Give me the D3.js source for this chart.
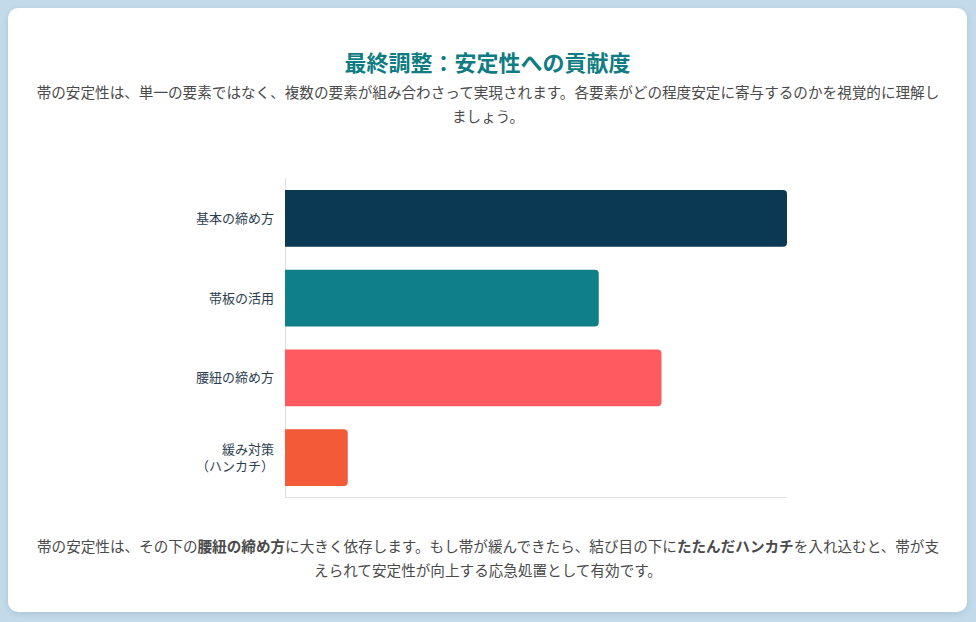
<!DOCTYPE html>
<html><head><meta charset="utf-8">
<script src="https://cdn.jsdelivr.net/npm/d3@7"></script>
<style>
body{margin:0;background:#c3daeb;font-family:"Noto Sans CJK JP","Noto Sans",sans-serif;}
#card{position:absolute;left:8px;top:8px;width:959px;height:604px;background:#fff;border-radius:10px;box-shadow:0 2px 6px rgba(0,0,0,0.1);}
h1{position:absolute;top:37px;left:0;width:100%;margin:0;text-align:center;font-size:22px;color:#0f7c83;font-weight:700;}
.p{position:absolute;left:28px;width:904px;text-align:center;font-size:14.6px;color:#4a4a4a;line-height:24px;}
svg{position:absolute;left:0;top:0;}
</style></head><body>
<div id="card">
<h1>最終調整：安定性への貢献度</h1>
<div class="p" style="top:72px">帯の安定性は、単一の要素ではなく、複数の要素が組み合わさって実現されます。各要素がどの程度安定に寄与するのかを視覚的に理解しましょう。</div>
<div class="p" style="top:526px">帯の安定性は、その下の<b>腰紐の締め方</b>に大きく依存します。もし帯が緩んできたら、結び目の下に<b>たたんだハンカチ</b>を入れ込むと、帯が支えられて安定性が向上する応急処置として有効です。</div>
</div>
<svg width="976" height="622"></svg>
<script>
const categories=[["基本の締め方"],["帯板の活用"],["腰紐の締め方"],["緩み対策","（ハンカチ）"]];
const values=[8,5,6,1];
const colors=["#0b3954","#0f7f8a","#ff5a5f","#f25a38"];
const svg=d3.select("svg");
const x=d3.scaleLinear().domain([0,8]).range([285,787]);
const y=d3.scaleBand().domain(d3.range(4)).range([178,498]).paddingInner(0.2875).paddingOuter(0.15);
svg.append("line").attr("x1",285.5).attr("x2",285.5).attr("y1",178).attr("y2",498).attr("stroke","#e0e0e0");
svg.append("line").attr("x1",285).attr("x2",787).attr("y1",497.5).attr("y2",497.5).attr("stroke","#e0e0e0");
const r=4;
svg.selectAll("path.bar").data(values).join("path").attr("fill",(d,i)=>colors[i]).attr("d",(d,i)=>{
 const x0=x(0),x1=x(d),y0=y(i),h=y.bandwidth();
 return `M${x0},${y0}H${x1-r}Q${x1},${y0} ${x1},${y0+r}V${y0+h-r}Q${x1},${y0+h} ${x1-r},${y0+h}H${x0}Z`;});
categories.forEach((lines,i)=>{
 const t=svg.append("text").attr("text-anchor","end").attr("font-size",13).attr("fill","#2c3e50");
 const cy=y(i)+y.bandwidth()/2, n=lines.length;
 lines.forEach((l,k)=>t.append("tspan").attr("x",274).attr("y",cy+4.5+(k-(n-1)/2)*17).text(l));
});
</script></body></html>
